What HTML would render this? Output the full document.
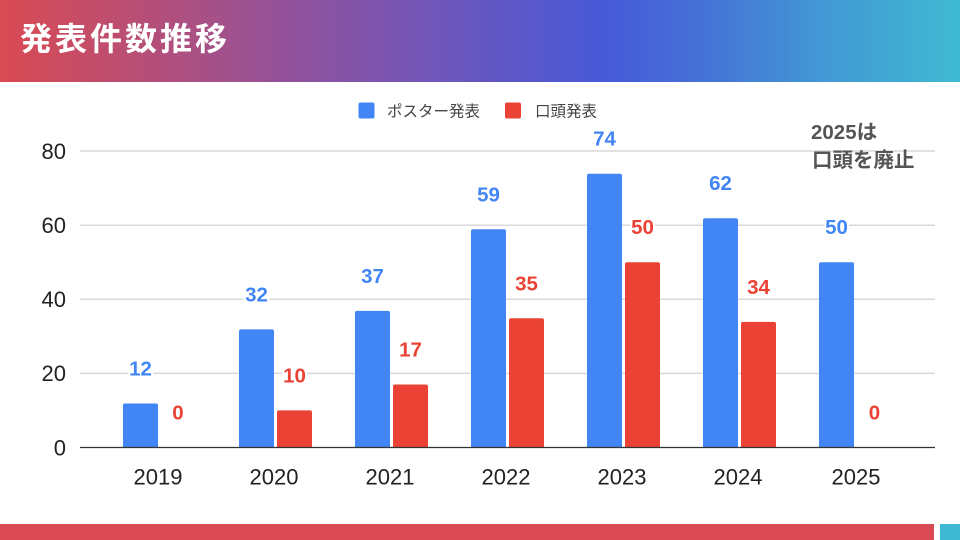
<!DOCTYPE html>
<html><head><meta charset="utf-8"><style>
html,body{margin:0;padding:0;}
body{width:960px;height:540px;overflow:hidden;background:#fff;position:relative;font-family:"Liberation Sans","Noto Sans CJK JP",sans-serif;}
.hdr{position:absolute;left:0;top:0;width:960px;height:82px;background:linear-gradient(90deg,#da4a52 0%,#8e53a0 32%,#4759d9 63%,#4577d6 75%,#4296d4 85%,#3fbad2 100%);}
.hdr span{position:absolute;left:20px;top:18px;font-size:32px;font-weight:bold;color:#fff;letter-spacing:3px;line-height:42px;font-family:"Liberation Sans","Noto Sans CJK JP",sans-serif;}
.fr{position:absolute;left:0;top:524px;width:934px;height:16px;background:#d94a55;}
.ft{position:absolute;left:940px;top:524px;width:20px;height:16px;background:#3fb8d3;}
svg{position:absolute;left:0;top:0;}
</style></head><body>
<div class="hdr"><span>発表件数推移</span></div>
<svg width="960" height="540" viewBox="0 0 960 540" font-family="Liberation Sans, Noto Sans CJK JP, sans-serif">
<g stroke="#d9d9d9" stroke-width="1.5">
<line x1="80" x2="935" y1="151" y2="151"/>
<line x1="80" x2="935" y1="225.2" y2="225.2"/>
<line x1="80" x2="935" y1="299.3" y2="299.3"/>
<line x1="80" x2="935" y1="373.4" y2="373.4"/>
</g>
<g font-size="22" fill="#222" text-anchor="end">
<text x="66" y="159">80</text>
<text x="66" y="233">60</text>
<text x="66" y="307">40</text>
<text x="66" y="381">20</text>
<text x="66" y="455.5">0</text>
</g>
<g fill="#4285f4">
<path d="M123 447.5V405.5a2 2 0 0 1 2-2h31a2 2 0 0 1 2 2V447.5Z"/>
<path d="M239 447.5V331.4a2 2 0 0 1 2-2h31a2 2 0 0 1 2 2V447.5Z"/>
<path d="M355 447.5V312.9a2 2 0 0 1 2-2h31a2 2 0 0 1 2 2V447.5Z"/>
<path d="M471 447.5V231.3a2 2 0 0 1 2-2h31a2 2 0 0 1 2 2V447.5Z"/>
<path d="M587 447.5V175.7a2 2 0 0 1 2-2h31a2 2 0 0 1 2 2V447.5Z"/>
<path d="M703 447.5V220.2a2 2 0 0 1 2-2h31a2 2 0 0 1 2 2V447.5Z"/>
<path d="M819 447.5V264.2a2 2 0 0 1 2-2h31a2 2 0 0 1 2 2V447.5Z"/>
</g>
<g fill="#ea4335">
<path d="M277 447.5V412.4a2 2 0 0 1 2-2h31a2 2 0 0 1 2 2V447.5Z"/>
<path d="M393 447.5V386.5a2 2 0 0 1 2-2h31a2 2 0 0 1 2 2V447.5Z"/>
<path d="M509 447.5V320.3a2 2 0 0 1 2-2h31a2 2 0 0 1 2 2V447.5Z"/>
<path d="M625 447.5V264.2a2 2 0 0 1 2-2h31a2 2 0 0 1 2 2V447.5Z"/>
<path d="M741 447.5V323.9a2 2 0 0 1 2-2h31a2 2 0 0 1 2 2V447.5Z"/>
</g>
<line x1="80" x2="935" y1="447.5" y2="447.5" stroke="#333" stroke-width="1.3"/>
<g font-size="20.5" font-weight="bold" text-anchor="middle" stroke="#fff" stroke-width="4" paint-order="stroke" stroke-linejoin="round">
<g fill="#4285f4">
<text x="140.5" y="375.5">12</text>
<text x="256.5" y="301.4">32</text>
<text x="372.5" y="282.9">37</text>
<text x="488.5" y="201.3">59</text>
<text x="604.5" y="145.7">74</text>
<text x="720.5" y="190.2">62</text>
<text x="836.5" y="234.2">50</text>
</g>
<g fill="#ea4335">
<text x="178" y="419.5">0</text>
<text x="294.5" y="382.4">10</text>
<text x="410.5" y="356.5">17</text>
<text x="526.5" y="290.3">35</text>
<text x="642.5" y="234.2">50</text>
<text x="758.5" y="293.9">34</text>
<text x="874.5" y="419.5">0</text>
</g>
</g>
<g font-size="22" fill="#222" text-anchor="middle">
<text x="158" y="484.5">2019</text>
<text x="274" y="484.5">2020</text>
<text x="390" y="484.5">2021</text>
<text x="506" y="484.5">2022</text>
<text x="622" y="484.5">2023</text>
<text x="738" y="484.5">2024</text>
<text x="856" y="484.5">2025</text>
</g>
<rect x="358.5" y="102.5" width="16" height="16" rx="2" fill="#4285f4"/>
<text x="387" y="116.5" font-size="15.5" fill="#444">ポスター発表</text>
<rect x="505" y="102.5" width="16" height="16" rx="2" fill="#ea4335"/>
<text x="535" y="116.5" font-size="15.5" fill="#444">口頭発表</text>
<g font-size="20.5" font-weight="bold" fill="#555">
<text x="811" y="139">2025は</text>
<text x="812" y="167">口頭を廃止</text>
</g>
</svg>
<div class="fr"></div><div class="ft"></div>
</body></html>
